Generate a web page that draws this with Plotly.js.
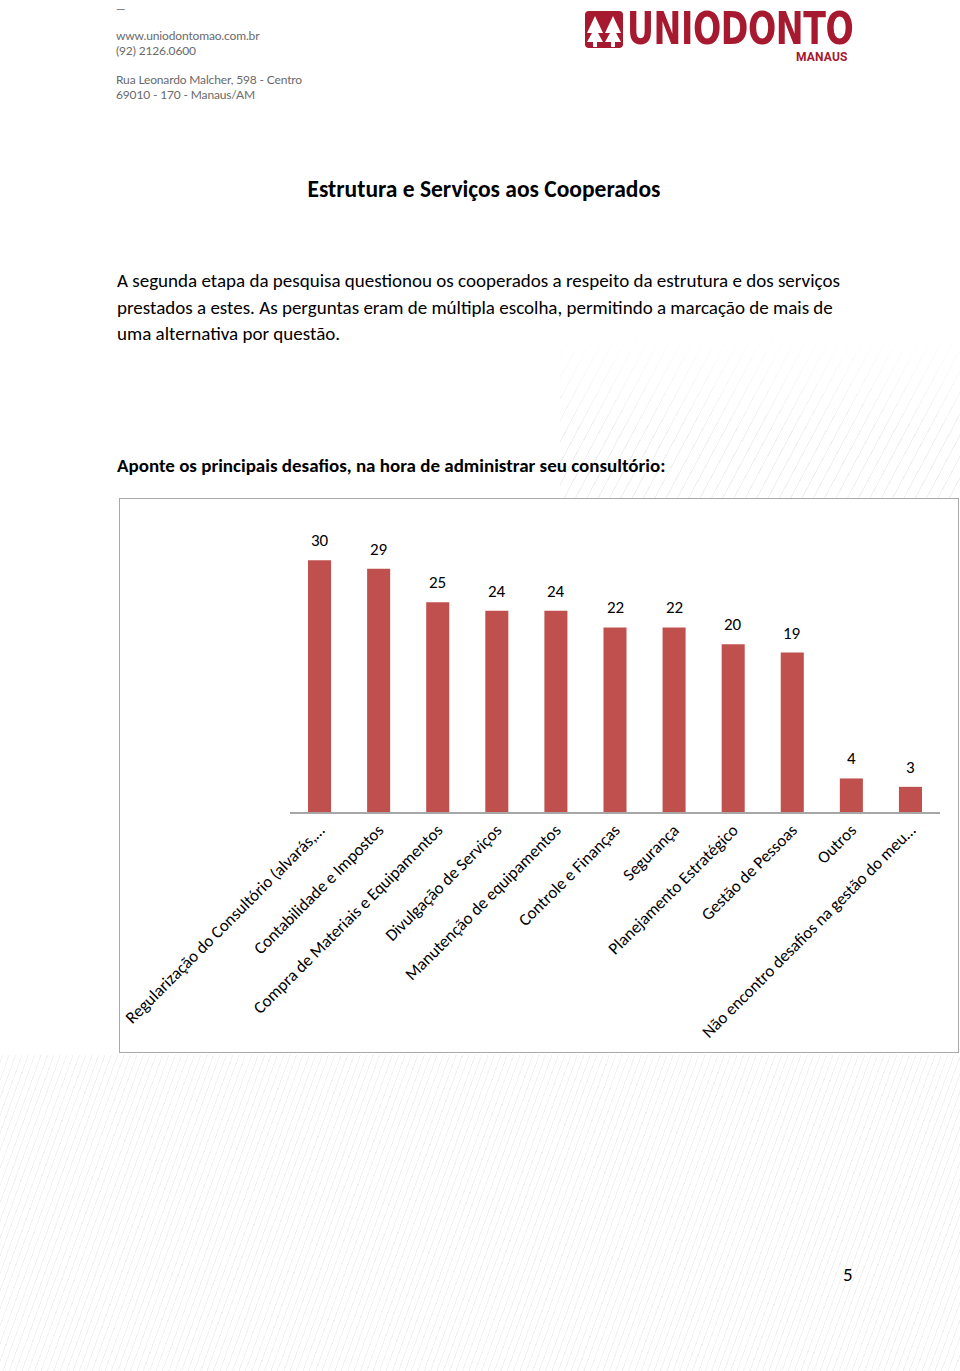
<!DOCTYPE html>
<html>
<head>
<meta charset="utf-8">
<script src="https://cdn.plot.ly/plotly-3.0.1.min.js"></script>
<style>
  html, body { margin:0; padding:0; background:#fff; }
  body { width:960px; height:1371px; position:relative; overflow:hidden; font-family: Carlito, Lato, "Open Sans", sans-serif; color:#000; }
  .abs { position:absolute; white-space:nowrap; }
  .hatch-bottom { position:absolute; left:0; top:1055px; width:960px; height:316px;
    background: repeating-linear-gradient(-70deg, rgba(0,0,0,0) 0px, rgba(0,0,0,0) 5px, #ececec 5px, #ececec 6px); opacity:0.7; }
  .hatch-top { position:absolute; left:560px; top:330px; width:400px; height:168px;
    background: repeating-linear-gradient(-62deg, rgba(0,0,0,0) 0px, rgba(0,0,0,0) 9px, #ededed 9px, #ededed 10px); opacity:0.8;
    -webkit-mask-image: linear-gradient(to bottom, rgba(0,0,0,0) 0%, rgba(0,0,0,1) 60%); }
  .addr { font-family: Lato, "Open Sans", sans-serif; font-size:12px; color:#6a6a6a; letter-spacing:-0.15px; }
  #chart { position:absolute; left:119px; top:498px; width:841px; height:556px; }
  #frame { position:absolute; left:119px; top:498px; width:838px; height:553px; border:1.5px solid #a9a9a9; pointer-events:none; }
  .logo { position:absolute; color:#a6192e; font-weight:bold; white-space:nowrap; }
</style>
</head>
<body>
<div class="hatch-top"></div>
<div class="hatch-bottom"></div>

<div class="abs addr" style="left:116px; top:1px;">—</div>
<div class="abs addr" style="left:116px; top:28px;">www.uniodontomao.com.br</div>
<div class="abs addr" style="left:116px; top:43px;">(92) 2126.0600</div>
<div class="abs addr" style="left:116px; top:72px;">Rua Leonardo Malcher, 598 - Centro</div>
<div class="abs addr" style="left:116px; top:87px;">69010 - 170 - Manaus/AM</div>

<svg class="abs" style="left:584px; top:10px;" width="42" height="40" viewBox="0 0 42 40">
  <rect x="1" y="1" width="38" height="37" rx="4" fill="#a6192e"/>
  <polygon points="11,6 3,23 8,23 3,32 19,32 14,23 19,23" fill="#fff"/>
  <polygon points="29,6 21,23 26,23 21,32 37,32 32,23 37,23" fill="#fff"/>
  <rect x="9" y="31" width="4" height="6" fill="#fff"/>
  <rect x="27" y="31" width="4" height="6" fill="#fff"/>
</svg>
<div class="logo" style="left:627px; top:12px; font-family:'Liberation Sans Narrow','DejaVu Sans Condensed',Roboto,sans-serif; font-size:44px; line-height:34px; letter-spacing:-0.5px; transform:scaleX(0.84); transform-origin:left top;">UNIODONTO</div>
<div class="logo" style="left:796px; top:51px; font-family:Roboto,'Liberation Sans',sans-serif; font-size:12px; line-height:12px; letter-spacing:0.2px;">MANAUS</div>

<div class="abs" style="left:0; width:968px; text-align:center; top:175px; font-size:23.5px; font-weight:bold;">Estrutura e Serviços aos Cooperados</div>

<div class="abs" style="left:117px; top:268px; font-size:19px; line-height:26.5px; white-space:normal; width:800px;">
A segunda etapa da pesquisa questionou os cooperados a respeito da estrutura e dos serviços<br>prestados a estes. As perguntas eram de múltipla escolha, permitindo a marcação de mais de<br>uma alternativa por questão.
</div>

<div class="abs" style="left:117px; top:454px; font-size:19px; font-weight:bold;">Aponte os principais desafios, na hora de administrar seu consultório:</div>

<div id="chart"></div>
<div id="frame"></div>

<div class="abs" style="left:843px; top:1263px; font-size:19px;">5</div>

<script>
const categories = [
  "Regularização do Consultório (alvarás,…",
  "Contabilidade e Impostos",
  "Compra de Materiais e Equipamentos",
  "Divulgação de Serviços",
  "Manutenção de equipamentos",
  "Controle e Finanças",
  "Segurança",
  "Planejamento Estratégico",
  "Gestão de Pessoas",
  "Outros",
  "Não encontro desafios na gestão do meu…"
];
const values = [30, 29, 25, 24, 24, 22, 22, 20, 19, 4, 3];

const labelFont = { family: "Carlito, Lato, 'Open Sans', sans-serif", size: 17, color: "#000" };

const annotations = categories.map((c, i) => ({
  x: c, y: values[i], text: String(values[i]),
  xref: "x", yref: "y", showarrow: false,
  yanchor: "bottom", yshift: 7, font: labelFont
}));

const data = [{
  type: "bar",
  x: categories,
  y: values,
  marker: { color: "#C0504D" },
  hoverinfo: "none"
}];

const layout = {
  width: 841, height: 556,
  margin: { l: 171, r: 20, t: 12, b: 242 },
  paper_bgcolor: "#fff",
  plot_bgcolor: "#fff",
  bargap: 0.61,
  showlegend: false,
  xaxis: {
    type: "category",
    tickangle: -45,
    tickfont: labelFont,
    showline: true, linecolor: "#a6a6a6", linewidth: 1.5,
    ticks: "", showgrid: false, automargin: false,
    fixedrange: true
  },
  yaxis: {
    range: [0, 36],
    visible: false, showgrid: false, zeroline: false, fixedrange: true
  },
  annotations: annotations
};

Plotly.newPlot("chart", data, layout, { staticPlot: true, displayModeBar: false });
</script>
</body>
</html>
